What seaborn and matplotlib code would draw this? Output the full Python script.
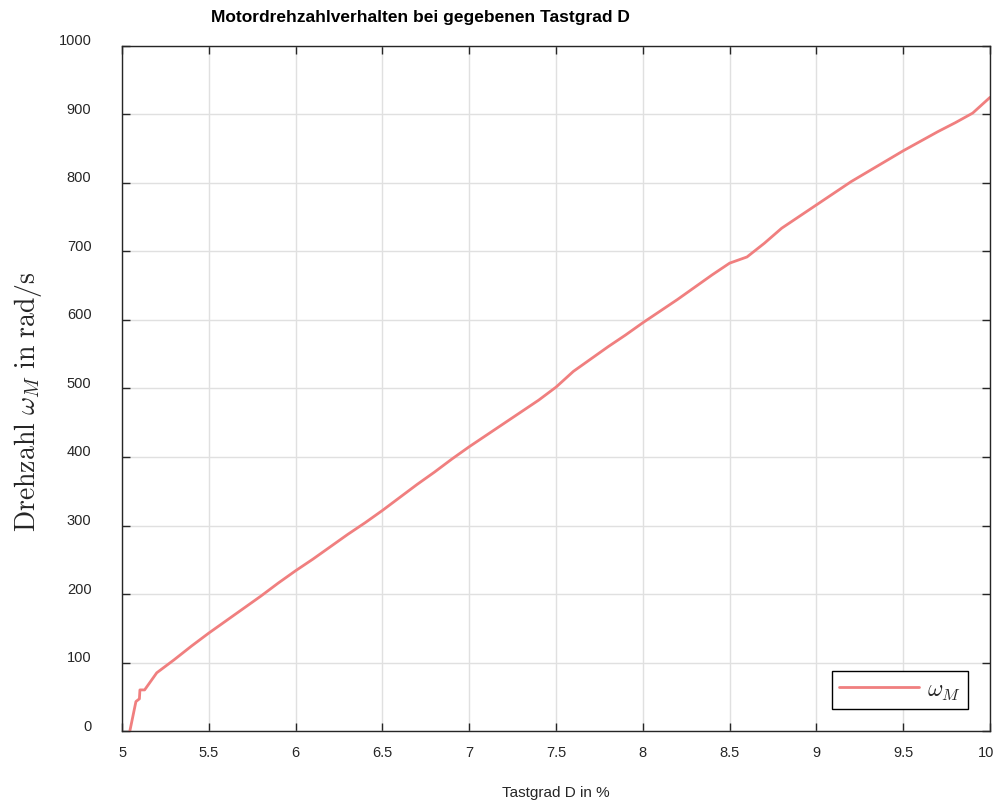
import matplotlib
matplotlib.use("Agg")
import matplotlib.pyplot as plt
import matplotlib.transforms as mtransforms
import seaborn as sns
import pandas as pd

# Data
duty = [5.045, 5.08, 5.10, 5.103, 5.13, 5.2, 5.3, 5.4, 5.5, 5.6, 5.7, 5.8, 5.9,
        6.0, 6.1, 6.2, 6.3, 6.4, 6.5, 6.6, 6.7, 6.8, 6.9, 7.0, 7.1, 7.2, 7.3,
        7.4, 7.5, 7.6, 7.7, 7.8, 7.9, 8.0, 8.1, 8.2, 8.3, 8.4, 8.5, 8.6, 8.7,
        8.8, 8.9, 9.0, 9.1, 9.2, 9.3, 9.4, 9.5, 9.6, 9.7, 9.8, 9.9, 10.0]
omega = [0, 43, 47, 60, 60, 85, 104, 124, 143, 161, 179, 197, 216,
         234, 251, 269, 287, 304, 322, 341, 360, 378, 397, 415, 432, 449, 466,
         483, 502, 525, 543, 561, 578, 596, 613, 630, 648, 666, 683, 692, 712,
         734, 751, 768, 785, 802, 817, 832, 847, 861, 875, 888, 902, 925]
xticks = [5, 5.5, 6, 6.5, 7, 7.5, 8, 8.5, 9, 9.5, 10]
xticklabels = ["5", "5.5", "6", "6.5", "7", "7.5", "8", "8.5", "9", "9.5", "10"]
yticks = [0, 100, 200, 300, 400, 500, 600, 700, 800, 900, 1000]

sns.set_theme(style="ticks")
plt.rcParams['font.family'] = ['Liberation Sans', 'DejaVu Sans']
plt.rcParams['mathtext.fontset'] = 'cm'

df = pd.DataFrame({"D": duty, "w": omega})

fig = plt.figure(figsize=(9.93, 8.03), dpi=100)
ax = fig.add_axes([0.1229, 0.0884, 0.8741, 0.8531])

sns.lineplot(data=df, x="D", y="w", estimator=None, sort=False, ax=ax,
             color="#F07F7F", linewidth=2.0, label=r"$\omega_M$")

ax.set_xlim(5, 10)
ax.set_ylim(0, 1000)
ax.set_xticks(xticks)
ax.set_xticklabels(xticklabels)
ax.set_yticks(yticks)
ax.set_yticklabels([str(v) for v in yticks])

ax.grid(True, color="#e0e0e0", linewidth=1.0)
ax.set_axisbelow(True)
for s in ax.spines.values():
    s.set_visible(True)
    s.set_color("#262626")
    s.set_linewidth(1.0)
ax.tick_params(axis="both", direction="in", length=6, width=1.0,
               colors="#262626", labelcolor="#262626", labelsize=10.5,
               top=True, right=True)
ax.tick_params(axis="x", pad=10)
ax.tick_params(axis="y", pad=22)

# shift y tick labels slightly upward like the reference
offset = mtransforms.ScaledTranslation(0, 0.07, fig.dpi_scale_trans)
for lbl in ax.get_yticklabels():
    lbl.set_transform(lbl.get_transform() + offset)
# keep the last x tick label inside the canvas
xl = ax.get_xticklabels()[-1]
xl.set_transform(xl.get_transform() + mtransforms.ScaledTranslation(-0.04, 0, fig.dpi_scale_trans))

ax.set_xlabel("Tastgrad D in %", fontsize=11, color="#262626", labelpad=19)
ax.set_ylabel(r"$\mathrm{Drehzahl}\ \omega_M\ \mathrm{in\ rad/s}$", fontsize=20,
              color="#262626")
ax.yaxis.set_label_coords(-0.090, 0.482)
fig.text(0.423, 0.978, "Motordrehzahlverhalten bei gegebenen Tastgrad D",
         ha="center", va="center", fontsize=12.5, fontweight="bold", color="black")

leg = ax.legend(loc="lower right", fontsize=17, frameon=True, fancybox=False,
                edgecolor="black", framealpha=1, borderaxespad=0.95,
                handlelength=3.4, handletextpad=0.3, borderpad=0.3)
leg.get_frame().set_linewidth(1.0)

fig.savefig("out.png", dpi=100)
